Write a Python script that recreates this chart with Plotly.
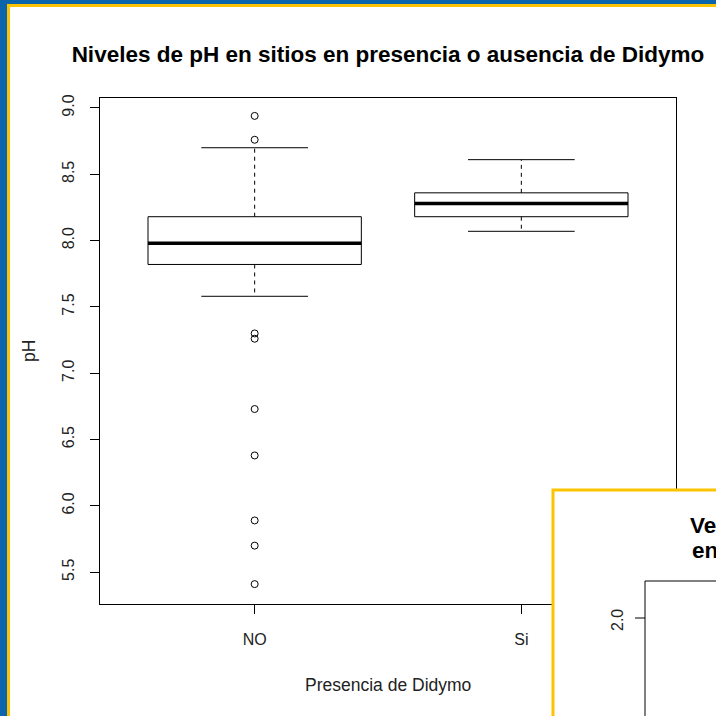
import plotly.graph_objects as go

# pH por grupo (resumen del boxplot)
grupos = ["NO", "Si"]
q1 = [7.82, 8.18]
mediana = [7.98, 8.28]
q3 = [8.18, 8.36]
bigote_inf = [7.58, 8.07]
bigote_sup = [8.70, 8.61]
atipicos_no = [8.94, 8.76, 7.30, 7.26, 6.73, 6.38, 5.89, 5.70, 5.41]
atipicos_si = []

W, H = 716, 716
L, R, T, B = 100, 40, 98, 112


def px_x(p):
    return (p - L) / (W - L - R)


def px_y(p):
    return (H - B - p) / (H - T - B)


fig = go.Figure()
negro = dict(color="black", width=1)
for i, g in enumerate(grupos):
    c = i + 1
    hw, cw = 0.4, 0.2
    fig.add_trace(go.Scatter(
        x=[c - hw, c + hw, c + hw, c - hw, c - hw],
        y=[q1[i], q1[i], q3[i], q3[i], q1[i]],
        mode="lines", line=negro, hoverinfo="skip", showlegend=False))
    fig.add_trace(go.Scatter(
        x=[c - hw, c + hw], y=[mediana[i], mediana[i]],
        mode="lines", line=dict(color="black", width=3.5), showlegend=False))
    fig.add_trace(go.Scatter(
        x=[c, c, None, c, c],
        y=[q3[i], bigote_sup[i], None, q1[i], bigote_inf[i]],
        mode="lines", line=dict(color="black", width=1, dash="4px,4px"),
        showlegend=False))
    fig.add_trace(go.Scatter(
        x=[c - cw, c + cw, None, c - cw, c + cw],
        y=[bigote_sup[i], bigote_sup[i], None, bigote_inf[i], bigote_inf[i]],
        mode="lines", line=negro, showlegend=False))

for c, pts in [(1, atipicos_no), (2, atipicos_si)]:
    fig.add_trace(go.Scatter(
        x=[c] * len(pts), y=pts, mode="markers", showlegend=False,
        marker=dict(symbol="circle-open", size=7, color="black",
                    line=dict(width=1))))

fuente = dict(family="Liberation Sans, Arial, sans-serif", color="black")
gris = dict(color="#222", family=fuente["family"])
eje = dict(showline=True, mirror=True, linecolor="black", linewidth=1,
           ticks="outside", ticklen=9, tickcolor="black", showgrid=False,
           zeroline=False, tickfont=dict(size=16, **gris))

fig.update_layout(
    width=W, height=H,
    margin=dict(l=L, r=R, t=T, b=B),
    paper_bgcolor="white", plot_bgcolor="white",
    title=dict(text="<b>Niveles de pH en sitios en presencia o ausencia de Didymo</b>",
               x=0.5, xref="paper", y=1 - 54 / H, yref="container",
               yanchor="middle", font=dict(size=22.5, **fuente)),
    xaxis=dict(range=[0.42, 2.58], tickvals=[1, 2], ticktext=grupos,
               ticklabelstandoff=12, **eje),
    yaxis=dict(range=[5.26, 9.075], tickvals=[5.5, 6.0, 6.5, 7.0, 7.5, 8.0, 8.5, 9.0],
               ticktext=["5.5", "6.0", "6.5", "7.0", "7.5", "8.0", "8.5", "9.0"],
               tickangle=-90, ticklabelstandoff=10, **eje),
)


def texto(t, x, y, size, font, angle=0, xanchor="center"):
    fig.add_annotation(text=t, xref="paper", yref="paper", x=px_x(x), y=px_y(y),
                       xanchor=xanchor, yanchor="middle", textangle=angle,
                       showarrow=False, font=dict(size=size, **font))


texto("Presencia de Didymo", 388, 685, 17.5, gris)
texto("pH", 29, 351, 17.5, gris, angle=-90)

# marco de la ventana
azul, amarillo = "#0b64ac", "#fcc300"
bordes = [
    (0, 0, 7, H + 5, azul),
    (0, 0, W + 5, 4, azul),
    (7, 4, 10, H + 5, amarillo),
    (7, 4, W + 5, 7, amarillo),
]
for x0, y0, x1, y1, col in bordes:
    fig.add_shape(type="rect", xref="paper", yref="paper", layer="above",
                  x0=px_x(x0), x1=px_x(x1), y0=px_y(y0), y1=px_y(y1),
                  fillcolor=col, line=dict(width=0))

# segunda ventana superpuesta
fig.add_shape(type="rect", xref="paper", yref="paper", layer="above",
              x0=px_x(553), x1=px_x(W + 10), y0=px_y(490), y1=px_y(H + 10),
              fillcolor="white", line=dict(color=amarillo, width=3))
fig.add_shape(type="rect", xref="paper", yref="paper", layer="above",
              x0=px_x(645), x1=px_x(W + 10), y0=px_y(581), y1=px_y(H + 10),
              fillcolor="rgba(0,0,0,0)", line=dict(color="black", width=1))
fig.add_shape(type="line", xref="paper", yref="paper", layer="above",
              x0=px_x(635), x1=px_x(645), y0=px_y(618), y1=px_y(618),
              line=dict(color="black", width=1))
texto("2.0", 617, 620, 16, gris, angle=-90)
texto("<b>Ve</b>", 688, 525, 22.5, fuente, xanchor="left")
texto("<b>en</b>", 690, 550, 22.5, fuente, xanchor="left")

fig.write_html("out.html", config={"displayModeBar": False},
               post_script="document.body.style.margin='0';")
